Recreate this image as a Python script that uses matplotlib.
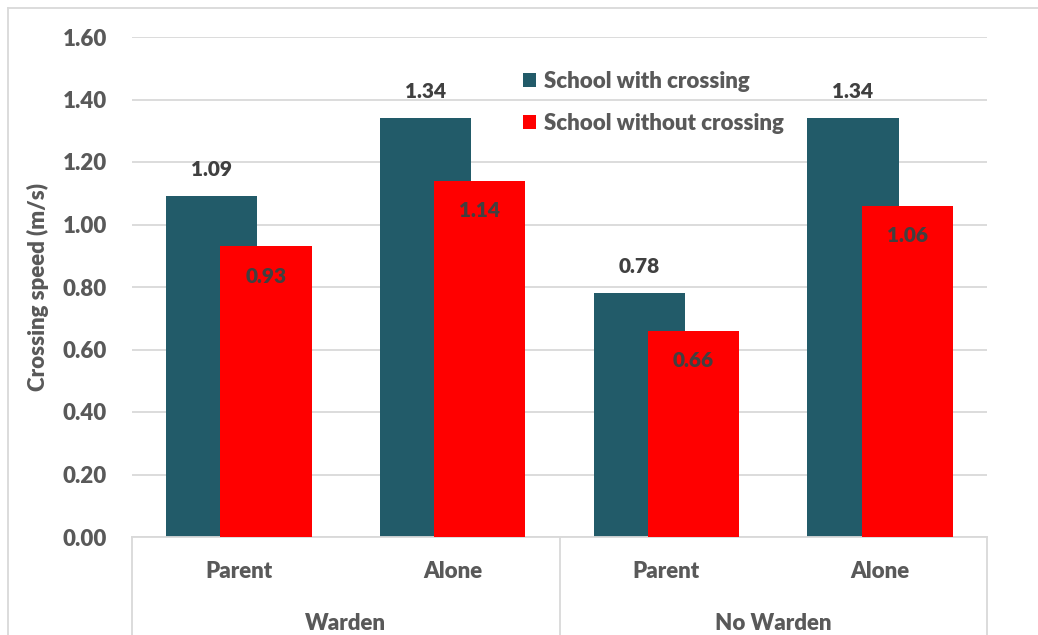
import numpy as np
import matplotlib.pyplot as plt

plt.rcParams['font.family'] = ['Lato', 'DejaVu Sans']
plt.rcParams['font.weight'] = 'heavy'
wt = 'heavy'

groups = ['Warden', 'No Warden']
subcats = ['Parent', 'Alone', 'Parent', 'Alone']
with_crossing = [1.09, 1.34, 0.78, 1.34]
without_crossing = [0.93, 1.14, 0.66, 1.06]
yticks = [0.0, 0.2, 0.4, 0.6, 0.8, 1.0, 1.2, 1.4, 1.6]

teal = '#225B69'
red = '#FF0000'
txt = '#595959'
grid = '#D9D9D9'

W, H = 1038, 635
fig = plt.figure(figsize=(W / 100, H / 100), dpi=100)
ax = fig.add_axes([132 / W, 98 / H, 855 / W, 500 / H])

x = np.arange(len(subcats))
bw = 0.426
off = 0.127
ax.bar(x - off, with_crossing, bw, color=teal, label='School with crossing', zorder=2)
ax.bar(x + off, without_crossing, bw, color=red, label='School without crossing', zorder=3)

for xi, v in zip(x - off, with_crossing):
    ax.annotate(f'{v:.2f}', (xi, v), xytext=(0, 17), textcoords='offset pixels',
                ha='center', va='bottom', fontsize=15, color='#404040', fontweight=wt)
for xi, v in zip(x + off, without_crossing):
    ax.annotate(f'{v:.2f}', (xi, v), xytext=(0, -30), textcoords='offset pixels',
                ha='center', va='center', fontsize=15, color='#404040', fontweight=wt, zorder=4)

ax.set_xlim(-0.5, len(subcats) - 0.5)
ax.set_ylim(0, 1.6)
ax.set_yticks(yticks)
ax.set_yticklabels([f'{t:.2f}' for t in yticks], fontsize=16, color=txt, fontweight=wt)
ax.tick_params(axis='y', length=0, pad=18)
ax.set_xticks([])
ax.yaxis.grid(True, color=grid, linewidth=1.3, zorder=0)
ax.set_axisbelow(True)
for s in ['left', 'right', 'top']:
    ax.spines[s].set_visible(False)
ax.spines['bottom'].set_color(grid)
ax.spines['bottom'].set_linewidth(1.3)

ax.set_ylabel('Crossing speed (m/s)', fontsize=16, color=txt, fontweight=wt, labelpad=10)

# two-level category axis
tr = ax.get_xaxis_transform()
for xv in [-0.5, 1.5, 3.5]:
    ax.plot([xv, xv], [0, -0.2], transform=tr, color=grid, linewidth=1.3, clip_on=False)
for xi, lab in zip(x, subcats):
    ax.text(xi, -0.07, lab, transform=tr, ha='center', va='center',
            fontsize=16, color=txt, fontweight=wt)
for gi, g in enumerate(groups):
    ax.text(gi * 2 + 0.5, -0.174, g, transform=tr, ha='center', va='center',
            fontsize=16, color=txt, fontweight=wt)

ax.legend(loc='upper left', bbox_to_anchor=(0.434, 0.973), frameon=False,
          handlelength=0.6, handleheight=0.6, handletextpad=0.35, labelspacing=0.97,
          prop={'size': 16, 'weight': wt}, labelcolor=txt)

# chart area border
fig.add_artist(plt.Line2D([8 / W, 1], [1 - 8 / H, 1 - 8 / H], color=grid, linewidth=1.3))
fig.add_artist(plt.Line2D([8 / W, 8 / W], [0, 1 - 8 / H], color=grid, linewidth=1.3))

fig.savefig('out.png', dpi=100)
